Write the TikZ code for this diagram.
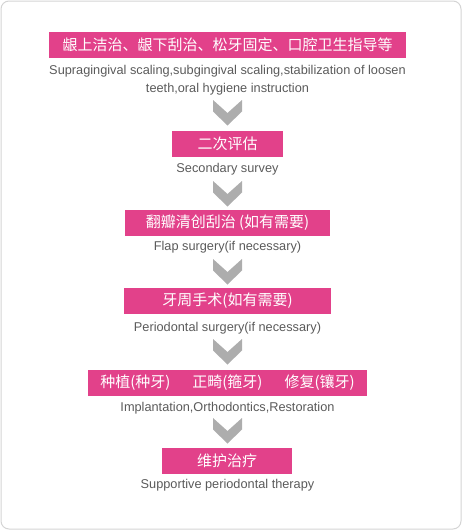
\documentclass[tikz,border=0pt]{standalone}
\usepackage{fontspec}
\setmainfont{Liberation Sans}
\newfontfamily\cjk{Noto Sans CJK SC}
\definecolor{pinkbox}{HTML}{E2418A}
\definecolor{chevgray}{HTML}{ADADAD}
\definecolor{txtgray}{HTML}{5A5A5A}
\definecolor{framegray}{HTML}{D4D4D4}
\begin{document}
\begin{tikzpicture}[x=1pt,y=-1pt,
  box/.style={fill=pinkbox,text=white,inner sep=0pt,minimum height=26pt,
    font=\cjk\fontsize{15}{15}\selectfont},
  caption/.style={text=txtgray,inner sep=0pt,align=center,
    font=\fontsize{12.75}{18}\selectfont},
  chev/.pic={\fill[chevgray] (-14.5,0) -- (0,13) -- (14.5,0) -- (14.5,11.5) -- (0,25.5) -- (-14.5,11.5) -- cycle;}]
\useasboundingbox (0,0) rectangle (462,530);
\draw[framegray, line width=1pt, rounded corners=8pt] (1,1) rectangle (461,529);

\node[box,minimum width=357pt] (b1) at (227.5,45) {龈上洁治、龈下刮治、松牙固定、口腔卫生指导等};
\node[caption] (t1) at (227.5,80.5) {Supragingival scaling,subgingival scaling,stabilization of loosen\\teeth,oral hygiene instruction};
\pic at (227.5,100) {chev};

\node[box,minimum width=111pt] (b2) at (227.5,144) {二次评估};
\node[caption] (t2) at (227.5,169.5) {Secondary survey};
\pic at (227.5,181) {chev};

\node[box,minimum width=205pt] (b3) at (227.5,223) {翻瓣清创刮治 (如有需要)};
\node[caption] (t3) at (227.5,247.5) {Flap surgery(if necessary)};
\pic at (227.5,259) {chev};

\node[box,minimum width=207pt] (b4) at (227.5,301) {牙周手术(如有需要)};
\node[caption] (t4) at (227.5,328.5) {Periodontal surgery(if necessary)};
\pic at (227.5,339) {chev};

\node[box,minimum width=279pt] (b5) at (227.5,383) {种植(种牙)\hspace{22pt}正畸(箍牙)\hspace{22pt}修复(镶牙)};
\node[caption] (t5) at (227.5,408.5) {Implantation,Orthodontics,Restoration};
\pic at (227.5,418) {chev};

\node[box,minimum width=130pt] (b6) at (227,460.5) {维护治疗};
\node[caption] (t6) at (227.5,485.5) {Supportive periodontal therapy};
\end{tikzpicture}
\end{document}
